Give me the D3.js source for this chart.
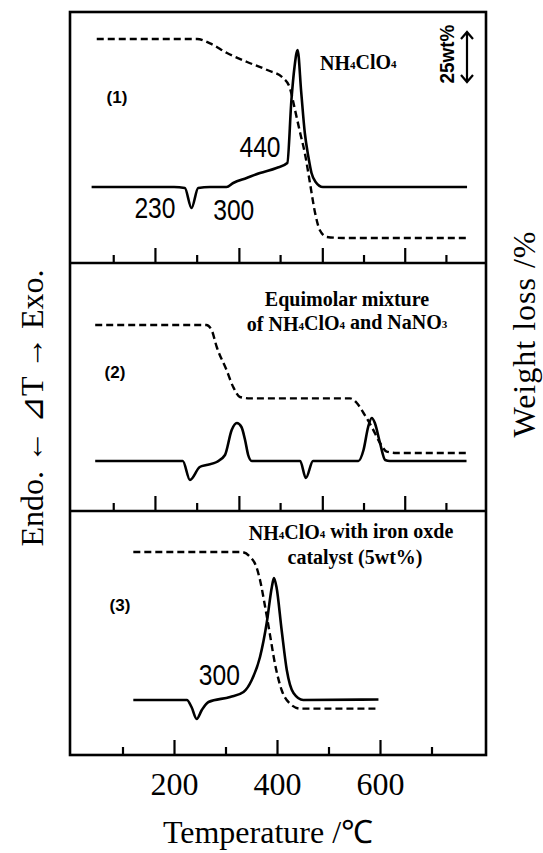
<!DOCTYPE html>
<html>
<head>
<meta charset="utf-8">
<script src="https://cdn.jsdelivr.net/npm/d3@7"></script>
<style>
  body { margin: 0; background: #fff; }
  svg { display: block; }
</style>
</head>
<body>
<svg id="chart" width="543" height="853"></svg>
<script>
// [temperature °C, DTA signal (arb. units, + = exo)]
const dta1 = [[40,0],[200,0],[221,-1],[234,-21],[247,-1],[270,0],[302,0],[315,4],[341,9],[367,14],[399,19],[420,24],[428,87],[434,120],[440,137],[447,95],[454,54],[461,30],[467,14],[475,5],[489,0],[769,0]];
const dta2 = [[47,0],[217,0],[231,-19],[250,-6],[263,-4],[283,-1],[299,6],[312,31],[322,38],[331,34],[338,21],[344,6],[351,0],[445,0],[456,-17],[470,0],[558,0],[568,11],[577,34],[584,43],[590,38],[600,18],[610,1],[619,0],[768,0]];
const dta3 = [[121,0],[225,0],[234,-7],[244,-19],[254,-10],[267,-2],[309,3],[335,8],[351,20],[367,43],[380,77],[390,113],[394,122],[399,113],[409,70],[419,30],[432,7],[451,0],[597,0.5]];

// [temperature °C, weight loss %]
const tg1 = [[50,0],[245,0],[270,2.2],[303,7],[342,11.5],[381,15.5],[412,19.5],[425,24.5],[435,35.5],[445,47],[454,57],[464,72],[474,87],[483,95.5],[497,99],[528,99.5],[769,99.5]];
const tg2 = [[47,0],[263,0],[273,2.5],[283,11],[302,22.5],[315,31],[328,36],[348,36.7],[542,36.7],[555,39],[568,44],[584,51],[600,59],[613,63.3],[632,64],[768,64]];
const tg3 = [[121,0],[331,0],[348,2.5],[360,7.5],[367,14],[377,27.5],[386,40.8],[396,55.8],[409,69],[425,75.8],[445,78.3],[597,78.3]];

const panelMajor = [163, 326, 488, 648];
const panelMinor = [82, 244, 406, 568, 728];
const bottomMajor = [200, 400, 600];
const bottomMinor = [100, 300, 500, 700];

const serif = "'Liberation Serif', 'Times New Roman', serif";
const sans = "'Liberation Sans', Arial, sans-serif";

const svg = d3.select("#chart");
const x = d3.scaleLinear().domain([0, 800]).range([71, 483]);

const frame = {left: 70, right: 486, top: 12, bottom: 755};

const panels = [
  {bottom: 263, base: 187, tg0: 39, dta: dta1, tg: tg1},
  {bottom: 511, base: 461, tg0: 325, dta: dta2, tg: tg2},
  {bottom: 755, base: 700, tg0: 552, dta: dta3, tg: tg3}
];

function tickAxis(y, values, len, labels) {
  const a = svg.append("g")
    .attr("transform", `translate(0,${y})`)
    .call(d3.axisBottom(x).tickValues(values).tickSize(-len).tickPadding(17)
      .tickFormat(labels ? d3.format("d") : ""));
  a.select(".domain").remove();
  a.selectAll("line").attr("stroke", "#000").attr("stroke-width", 2.2);
  a.selectAll("text").attr("fill", "#000")
    .style("font-family", serif).style("font-size", "32px");
}

panels.forEach((p, i) => {
  const yD = d3.scaleLinear().domain([0, 100]).range([p.base, p.base - 100]);
  const yW = d3.scaleLinear().domain([0, 100]).range([p.tg0, p.tg0 + 200]);
  p.yW = yW;

  svg.append("path")
    .datum(p.tg)
    .attr("fill", "none")
    .attr("stroke", "#000")
    .attr("stroke-width", 2.4)
    .attr("stroke-dasharray", "7,4")
    .attr("d", d3.line().x(d => x(d[0])).y(d => yW(d[1])).curve(d3.curveMonotoneX));

  svg.append("path")
    .datum(p.dta)
    .attr("fill", "none")
    .attr("stroke", "#000")
    .attr("stroke-width", 2.6)
    .attr("stroke-linejoin", "round")
    .attr("d", d3.line().x(d => x(d[0])).y(d => yD(d[1])).curve(d3.curveMonotoneX));

  if (i < 2) {
    tickAxis(p.bottom, panelMajor, 15, false);
    tickAxis(p.bottom, panelMinor, 8, false);
  } else {
    tickAxis(p.bottom, bottomMajor, 15, true);
    tickAxis(p.bottom, bottomMinor, 8, false);
  }
});

// frame and panel dividers
svg.append("rect")
  .attr("x", frame.left).attr("y", frame.top)
  .attr("width", frame.right - frame.left).attr("height", frame.bottom - frame.top)
  .attr("fill", "none").attr("stroke", "#000").attr("stroke-width", 2.6);
[263, 511].forEach(y => {
  svg.append("line")
    .attr("x1", frame.left).attr("x2", frame.right).attr("y1", y).attr("y2", y)
    .attr("stroke", "#000").attr("stroke-width", 2.6);
});

// text with _n subscripts
function rich(x0, y0, str, size, anchor) {
  const t = svg.append("text")
    .attr("x", x0).attr("y", y0)
    .attr("text-anchor", anchor || "start")
    .style("font-family", serif).style("font-weight", "bold")
    .style("font-size", size + "px");
  str.split(/(_\d)/).forEach(s => {
    if (!s) return;
    if (s[0] === "_") {
      t.append("tspan").attr("dy", -size * 0.05).style("font-size", (size * 0.55) + "px").text(s.slice(1));
      t.append("tspan").attr("dy", size * 0.05).text("");
    } else {
      t.append("tspan").text(s);
    }
  });
  return t;
}

rich(320, 70, "NH_4ClO_4", 20);
rich(347, 306, "Equimolar mixture", 20, "middle");
rich(347, 331, "of NH_4ClO_4 and NaNO_3", 20, "middle");
rich(351, 540, "NH_4ClO_4 with iron oxde", 20, "middle");
rich(355, 564, "catalyst (5wt%)", 20, "middle");

// panel numbers
[["(1)", 117, 97], ["(2)", 115, 372], ["(3)", 120, 605]].forEach(d => {
  svg.append("text")
    .attr("x", d[1]).attr("y", d[2])
    .attr("text-anchor", "middle").attr("dominant-baseline", "central")
    .style("font-family", sans).style("font-weight", "bold").style("font-size", "17px")
    .text(d[0]);
});

// peak temperatures (condensed digits)
[["230", 163, 208], ["300", 316, 210], ["440", 367, 147], ["300", 288, 675]].forEach(d => {
  svg.append("text")
    .attr("transform", `translate(${x(d[1])},${d[2]}) scale(0.85,1)`)
    .attr("text-anchor", "middle").attr("dominant-baseline", "central")
    .style("font-family", sans).style("font-size", "29px")
    .text(d[0]);
});

// 25 wt% scale bar
const yW1 = panels[0].yW;
const barTop = yW1(0) - 7, barBot = barTop + (yW1(25) - yW1(0));
const ax = 467;
svg.append("path")
  .attr("fill", "none").attr("stroke", "#000").attr("stroke-width", 2.2)
  .attr("d", `M${ax},${barTop}V${barBot}M${ax - 6},${barTop + 7}L${ax},${barTop}L${ax + 6},${barTop + 7}` +
             `M${ax - 6},${barBot - 7}L${ax},${barBot}L${ax + 6},${barBot - 7}`);
svg.append("text")
  .attr("transform", `translate(447,54) rotate(-90) scale(0.9,1)`)
  .attr("text-anchor", "middle").attr("dominant-baseline", "central")
  .style("font-family", sans).style("font-weight", "bold").style("font-size", "21px")
  .text("25wt%");

// axis titles
svg.append("text")
  .attr("x", 268).attr("y", 843)
  .attr("text-anchor", "middle")
  .style("font-family", serif).style("font-size", "32px")
  .text("Temperature /℃");

svg.append("text")
  .attr("transform", "translate(32,408) rotate(-90)")
  .attr("text-anchor", "middle").attr("dominant-baseline", "central")
  .style("font-family", serif).style("font-size", "32px")
  .text("Endo. ← ⊿T → Exo.");

svg.append("text")
  .attr("transform", "translate(524,334) rotate(-90)")
  .attr("text-anchor", "middle").attr("dominant-baseline", "central")
  .style("font-family", serif).style("font-size", "32px")
  .attr("letter-spacing", "1")
  .text("Weight loss /%");
</script>
</body>
</html>
